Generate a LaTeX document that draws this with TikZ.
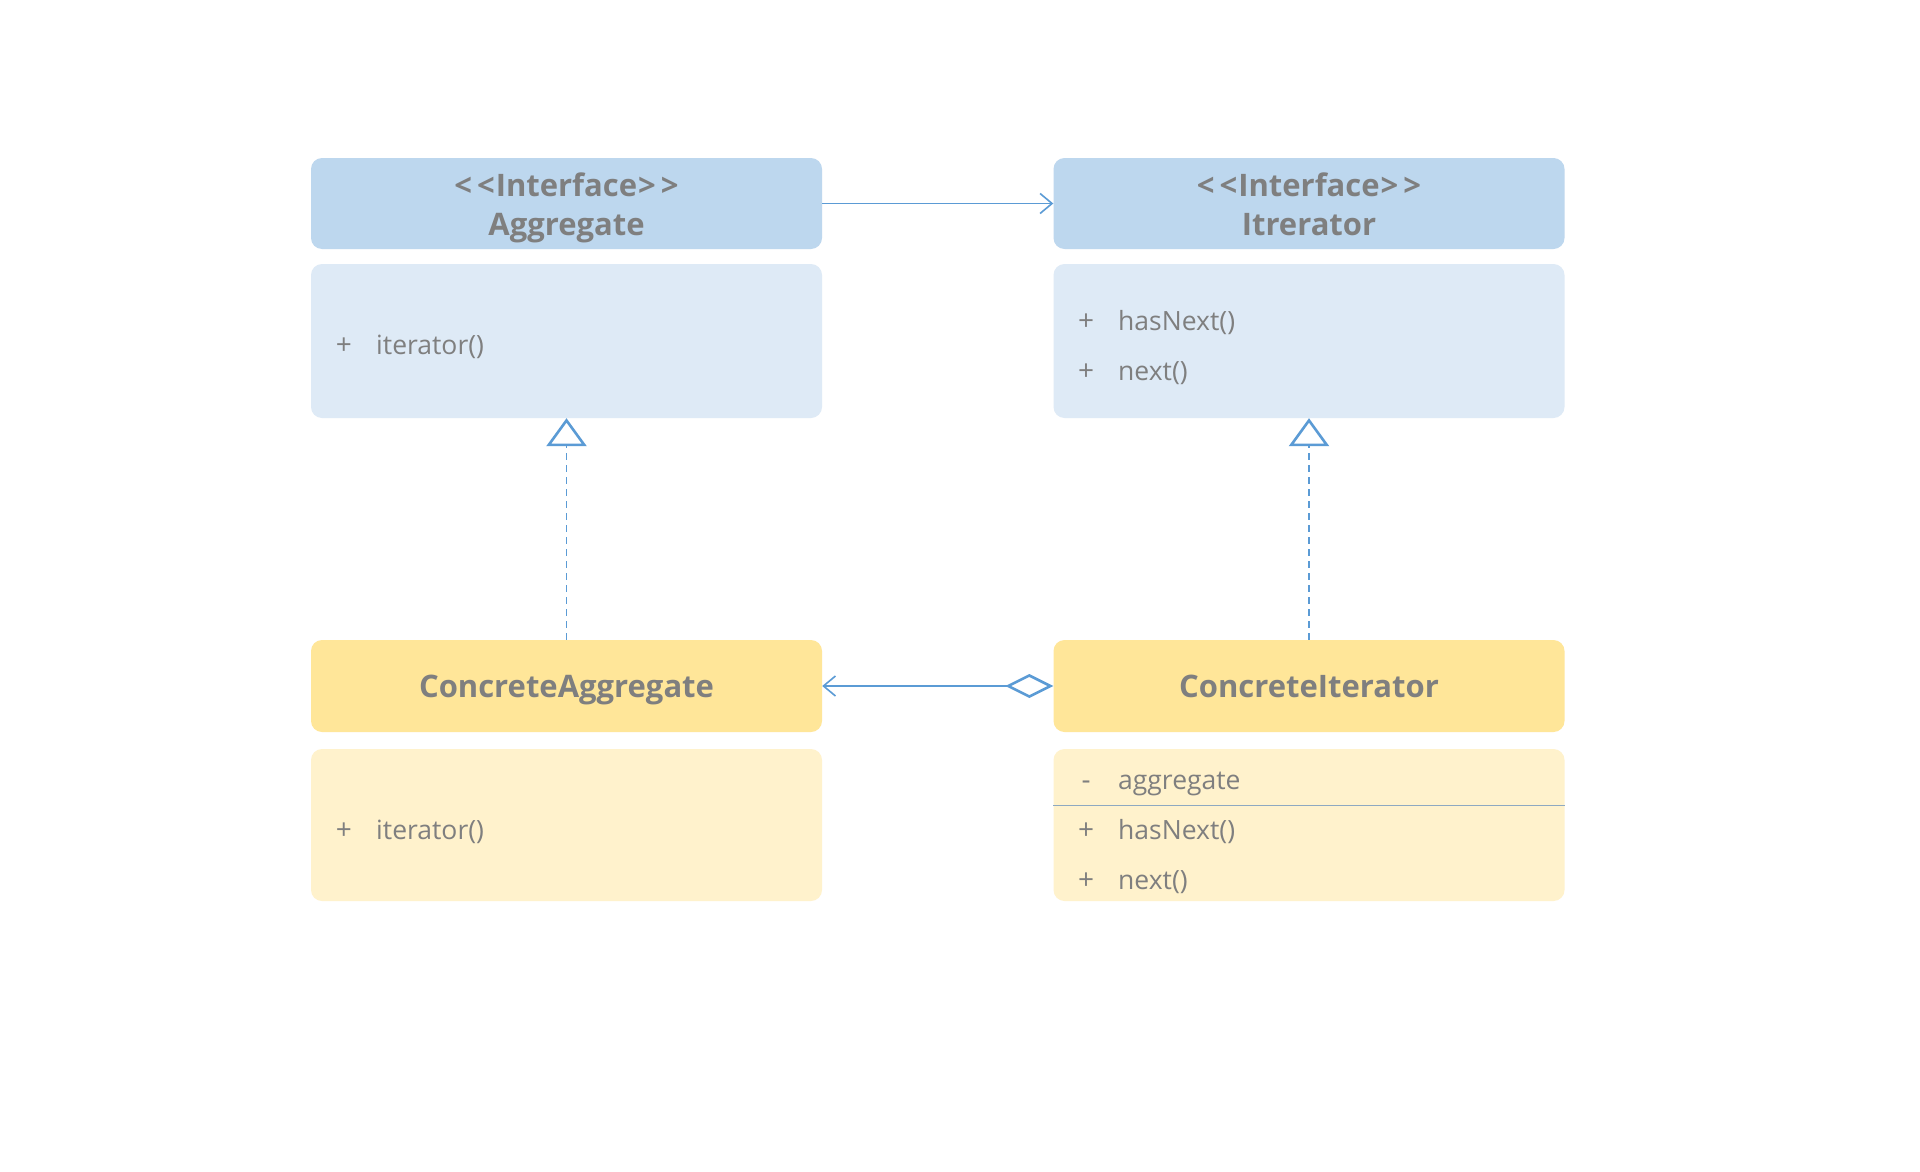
\documentclass[tikz,border=0pt]{standalone}
\usepackage{fontspec}
\setmainfont{Open Sans}
\usetikzlibrary{arrows.meta}
\definecolor{hdrblue}{HTML}{BDD7EE}
\definecolor{bodyblue}{HTML}{DEEAF6}
\definecolor{hdryellow}{HTML}{FFE699}
\definecolor{bodyyellow}{HTML}{FFF2CC}
\definecolor{txtgray}{HTML}{7F7F7F}
\definecolor{linkblue}{HTML}{5B9BD5}
\definecolor{sepgray}{HTML}{8EA9C1}
% plain angle brackets, kept apart from the guillemet ligature
\newcommand\lsign{\char60\relax}
\newcommand\gsign{\char62\relax}
\newcommand\stereo[1]{\lsign\kern5pt\lsign\kern1pt#1\kern1pt\gsign\kern5pt\gsign}
% line struts: the first one is taller so the two-line title sits a bit lower
\newcommand\topstrut{\rule{0pt}{37pt}}
\newcommand\botstrut{\rule[-11.7pt]{0pt}{27.3pt}}
\tikzset{
  box/.style={rectangle, rounded corners=11pt, draw=none, minimum width=511pt, inner sep=0pt},
  hdr/.style={box, minimum height=91pt, align=center, text=txtgray,
    font=\fontsize{31}{39}\selectfont\bfseries},
  bluehdr/.style={hdr, fill=hdrblue},
  yellowhdr/.style={hdr, fill=hdryellow, minimum height=92pt, text height=23pt, text depth=0pt},
  bodybox/.style={box, minimum height=154pt},
  bluebody/.style={bodybox, fill=bodyblue},
  yellowbody/.style={bodybox, fill=bodyyellow, minimum height=152pt},
  vis/.style={text=txtgray, font=\fontsize{28}{30}\selectfont, inner sep=0pt, anchor=mid},
  member/.style={text=txtgray, font=\fontsize{26.5}{30}\selectfont, inner sep=0pt, anchor=mid west},
  assoc/.style={draw=linkblue, line width=1.6pt, -{Straight Barb[length=12pt, width=20pt, line width=1.6pt]}},
  realize/.style={draw=linkblue, line width=1.7pt, dash pattern=on 7pt off 5pt,
    -{Triangle[open, length=28pt, width=40pt, line width=2.6pt]}},
  aggreg/.style={draw=linkblue, line width=1.6pt,
    {Diamond[open, length=48pt, width=24pt, line width=2.6pt]}-{Straight Barb[length=12pt, width=20pt, line width=1.6pt]}},
  sepline/.style={draw=sepgray, line width=1pt}
}
\begin{document}
\begin{tikzpicture}[x=1pt, y=-1pt]
  % canvas
  \path[fill=white] (0,0) rectangle (1920,1172);
  \useasboundingbox (0,0) rectangle (1920,1172);

  % interfaces
  \node[bluehdr] (aggh) at (566.5,203.5) {\topstrut\stereo{Interface}\\\botstrut Aggregate};
  \node[bluebody] (aggb) at (566.5,341) {};
  \node[bluehdr] (ith) at (1309,203.5) {\topstrut\stereo{Interface}\\\botstrut Itrerator};
  \node[bluebody] (itb) at (1309,341) {};

  % concrete classes
  \node[yellowhdr] (cah) at (566.5,686) {ConcreteAggregate};
  \node[yellowbody] (cab) at (566.5,825) {};
  \node[yellowhdr] (cih) at (1309,686) {ConcreteIterator};
  \node[yellowbody] (cib) at (1309,825) {};

  % members
  \node[vis] (aggp1) at (344,352) {+};
  \node[member] (aggm1) at (376,352) {iterator()};

  \node[vis] (itp1) at (1086,328) {+};
  \node[member] (itm1) at (1118,328) {hasNext()};
  \node[vis] (itp2) at (1086,378) {+};
  \node[member] (itm2) at (1118,378) {next()};

  \node[vis] (cap1) at (344,837) {+};
  \node[member] (cam1) at (376,837) {iterator()};

  \node[vis] (cip0) at (1086,787) {-};
  \node[member] (cim0) at (1118,787) {aggregate};
  \coordinate (sep) at (1309,805);
  \draw[sepline] (cib.west |- sep) -- (cib.east |- sep);
  \node[vis] (cip1) at (1086,837) {+};
  \node[member] (cim1) at (1118,837) {hasNext()};
  \node[vis] (cip2) at (1086,887) {+};
  \node[member] (cim2) at (1118,887) {next()};

  % relations
  \draw[assoc] (aggh.east) -- (ith.west);
  \draw[realize] (cah.north) -- (aggb.south);
  \draw[realize] (cih.north) -- (itb.south);
  \draw[aggreg] (cih.west) -- (cah.east);
\end{tikzpicture}
\end{document}
